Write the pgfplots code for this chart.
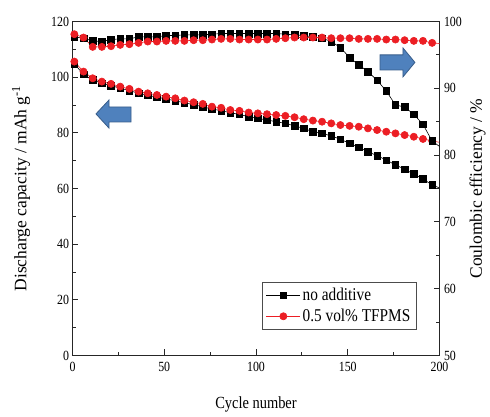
\documentclass[border=0pt]{standalone}
\usepackage{fontspec}
\setmainfont{Liberation Serif}[FakeStretch=0.85]
\newfontfamily\rotfont{Liberation Serif}
\usepackage{pgfplots}
\pgfplotsset{compat=1.18}
\definecolor{myred}{RGB}{236,30,36}
\definecolor{arrowfill}{RGB}{79,129,189}
\definecolor{arrowdraw}{RGB}{56,93,138}
\begin{document}
\begin{tikzpicture}
\useasboundingbox (-72.5pt,-61.5pt) rectangle (417.5pt,355.5pt);
\pgfplotsset{
  common/.style={
    width=367pt, height=334pt, scale only axis,
    at={(0,0)}, anchor=south west,
    xmin=0, xmax=200,
    tick align=inside,
    major tick length=6pt, minor tick length=3.5pt,
    /pgf/number format/assume math mode=true,
    tick label style={font=\fontsize{14}{14}\selectfont},
    axis line style={line width=0.8pt, black!85},
    every tick/.style={line width=0.8pt, black!85},
    clip=false,
  }
}
\begin{axis}[common,
  ymin=0, ymax=120,
  xtick={0,50,100,150,200}, minor xtick={25,75,125,175},
  ytick={0,20,40,60,80,100,120}, minor ytick={10,30,50,70,90,110},
  xtick pos=bottom, ytick pos=left,
  xticklabel style={yshift=-3pt},
  xlabel={Cycle number},
  ylabel={\rotfont Discharge capacity / mAh g\textsuperscript{-1}},
  every axis x label/.style={at={(axis description cs:0.5,-0.148)}, anchor=center, font=\fontsize{17}{17}\selectfont},
  every axis y label/.style={at={(axis description cs:-0.1403,0.5)}, anchor=center, rotate=90, font=\fontsize{17.5}{17.5}\selectfont},
  legend style={at={(axis description cs:0.5155,0.22)}, anchor=north west, draw=black!70, line width=0.6pt, font=\fontsize{18}{19}\selectfont, row sep=3pt, inner xsep=4pt, inner ysep=4pt},
  legend cell align=left,
  legend image code/.code={\draw[mark repeat=2,mark phase=2,#1] plot coordinates {(0cm,0cm) (0.6cm,0cm) (1.2cm,0cm)};},
]
\addplot[black, line width=0.6pt, mark=square*, mark size=3.3pt, mark options={solid, fill=black}] coordinates {
(1,104.8)(6,101.0)(11,99.0)(16,97.8)(21,97.0)(26,96.0)(31,95.2)(36,94.2)(41,93.5)(46,92.8)
(51,92.2)(56,91.5)(61,90.8)(66,90.1)(71,89.4)(76,88.5)(81,88.0)(86,87.2)(91,86.6)(96,85.8)
(101,85.2)(106,84.6)(111,84.0)(116,83.4)(121,82.5)(126,81.6)(131,80.4)(136,79.8)(141,78.9)(146,77.7)
(151,76.2)(156,74.8)(161,73.2)(166,71.8)(171,70.2)(176,68.5)(181,66.9)(186,65.2)(191,63.4)(196,61.3)
};
\addlegendentry{no additive}
\addplot[myred, line width=0.6pt, mark=*, mark size=3.6pt, mark options={solid, fill=myred}] coordinates {
(1,105.6)(6,102.0)(11,99.6)(16,98.4)(21,97.6)(26,96.6)(31,95.8)(36,94.8)(41,94.2)(46,93.6)
(51,93.0)(56,92.4)(61,91.6)(66,91.0)(71,90.4)(76,89.4)(81,89.0)(86,88.2)(91,87.9)(96,87.3)
(101,87.0)(106,86.7)(111,86.4)(116,86.1)(121,85.6)(126,84.9)(131,84.4)(136,84.0)(141,83.4)(146,82.8)
(151,82.5)(156,82.2)(161,81.6)(166,81.0)(171,80.4)(176,79.8)(181,79.2)(186,78.6)(191,77.8)(196,77.1)
};
\addlegendentry{0.5 vol\% TFPMS}
\addplot[black, line width=0.6pt, forget plot] coordinates {(196,61.3)(200,60.2)};
\addplot[myred, line width=0.6pt, forget plot] coordinates {(196,77.1)(200,76.6)};
% arrows (annotations)
\draw[fill=arrowfill, draw=arrowdraw, line width=0.8pt]
  (axis cs:12.8,86.8) -- (axis cs:19.9,91.8) -- (axis cs:19.9,89.3) -- (axis cs:31.9,89.3)
  -- (axis cs:31.9,83.9) -- (axis cs:19.9,83.9) -- (axis cs:19.9,81.7) -- cycle;
\draw[fill=arrowfill, draw=arrowdraw, line width=0.8pt]
  (axis cs:186.6,105.3) -- (axis cs:180.1,110.5) -- (axis cs:180.1,108.0) -- (axis cs:167.6,108.0)
  -- (axis cs:167.6,102.6) -- (axis cs:180.1,102.6) -- (axis cs:180.1,100.1) -- cycle;
\end{axis}
\begin{axis}[common,
  ymin=50, ymax=100,
  axis x line=none, axis y line*=right,
  ytick={50,60,70,80,90,100}, minor ytick={55,65,75,85,95},
  yticklabel style={xshift=1pt},
  ylabel={\rotfont Coulombic efficiency / \%},
  every axis y label/.style={at={(axis description cs:1.1035,0.5)}, anchor=center, rotate=90, font=\fontsize{17.5}{17.5}\selectfont},
]
\addplot[black, line width=0.6pt, mark=square*, mark size=3.3pt, mark options={solid, fill=black}] coordinates {
(1,97.7)(6,97.5)(11,97.1)(16,97.0)(21,97.3)(26,97.4)(31,97.4)(36,97.7)(41,97.7)(46,97.7)
(51,97.9)(56,97.9)(61,98.0)(66,98.0)(71,98.0)(76,98.1)(81,98.2)(86,98.2)(91,98.2)(96,98.2)
(101,98.2)(106,98.2)(111,98.2)(116,98.1)(121,98.0)(126,97.9)(131,97.7)(136,97.5)(141,97.0)(146,96.1)
(151,94.6)(156,93.5)(161,92.5)(166,91.2)(171,89.6)(176,87.5)(181,87.2)(186,86.1)(191,84.6)(196,82.1)
};
\addplot[black, line width=0.6pt] coordinates {(196,82.1)(200,81.3)};
\addplot[myred, line width=0.6pt, mark=*, mark size=3.6pt, mark options={solid, fill=myred}] coordinates {
(1,98.1)(6,97.6)(11,96.2)(16,96.2)(21,96.3)(26,96.5)(31,96.6)(36,96.8)(41,97.0)(46,97.0)
(51,97.1)(56,97.1)(61,97.1)(66,97.2)(71,97.2)(76,97.3)(81,97.4)(86,97.4)(91,97.3)(96,97.3)
(101,97.3)(106,97.3)(111,97.4)(116,97.5)(121,97.6)(126,97.6)(131,97.6)(136,97.6)(141,97.5)(146,97.5)
(151,97.5)(156,97.4)(161,97.4)(166,97.4)(171,97.3)(176,97.3)(181,97.2)(186,97.1)(191,97.1)(196,96.8)
};
\addplot[myred, line width=0.6pt] coordinates {(196,96.8)(200,96.7)};
\end{axis}
\end{tikzpicture}
\end{document}
